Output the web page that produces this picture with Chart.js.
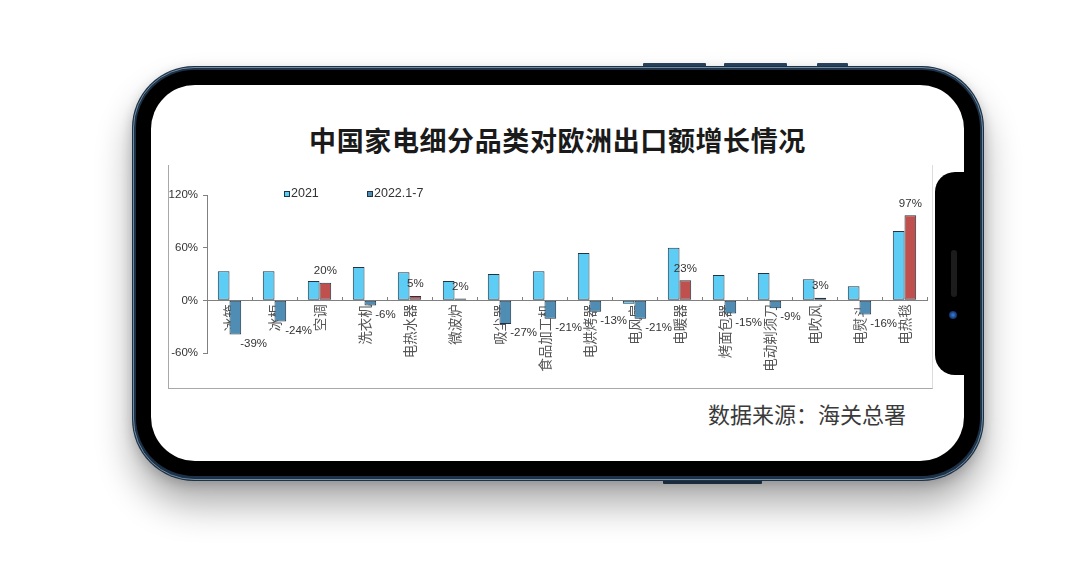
<!DOCTYPE html>
<html><head><meta charset="utf-8">
<script src="https://cdn.jsdelivr.net/npm/chart.js@4.4.1/dist/chart.umd.min.js"></script>
<style>
html,body{margin:0;padding:0;background:#fff;}
body{width:1080px;height:562px;position:relative;overflow:hidden;font-family:"Noto Sans CJK SC",sans-serif;}
.btn{position:absolute;background:#2a4560;border-radius:1px;}
#phone{position:absolute;left:132px;top:66px;width:852px;height:415px;border-radius:62px;background:#1d3246;box-shadow:0 24px 36px rgba(0,0,0,0.32),0 4px 12px rgba(0,0,0,0.18);}
#rim{position:absolute;left:1px;top:1px;right:1px;bottom:1px;border-radius:61px;border:1px solid #6f8aa3;box-sizing:border-box;}
#bezel{position:absolute;left:4px;top:4px;right:4px;bottom:5px;border-radius:58px;background:#000;}
#screen{position:absolute;left:151px;top:85px;width:813px;height:376px;border-radius:44px;background:#fff;overflow:hidden;}
#notch{position:absolute;left:935px;top:172px;width:30px;height:203px;background:#000;border-radius:20px 0 0 20px;}
#speaker{position:absolute;left:951px;top:250px;width:6px;height:47px;border-radius:3px;background:#1c1c1c;}
#cam{position:absolute;left:949px;top:311px;width:8px;height:8px;border-radius:50%;background:radial-gradient(circle,#3b7de0 0,#173c7a 60%,#050a14 100%);}
#title{position:absolute;left:151px;width:813px;top:121px;text-align:center;font-size:27px;font-weight:700;color:#1a1a1a;letter-spacing:0.6px;line-height:38px;}
#frame{position:absolute;left:168px;top:165px;width:765px;height:224px;box-sizing:border-box;border-left:1px solid #a8a8a8;border-bottom:1px solid #a8a8a8;border-right:1px solid #dcdcdc;}
#chart{position:absolute;left:169px;top:165px;}
#source{position:absolute;left:708px;top:398px;font-size:22px;color:#3a3a3a;line-height:30px;white-space:nowrap;}
</style></head>
<body>
<div class="btn" style="left:643px;top:63px;width:63px;height:4px;"></div>
<div class="btn" style="left:724px;top:63px;width:63px;height:4px;"></div>
<div class="btn" style="left:817px;top:63px;width:31px;height:4px;"></div>
<div class="btn" style="left:663px;top:479px;width:99px;height:5px;"></div>
<div id="phone"><div id="rim"></div><div id="bezel"></div></div>
<div id="screen"></div>
<div id="notch"></div>
<div id="speaker"></div>
<div id="cam"></div>
<div id="title">中国家电细分品类对欧洲出口额增长情况</div>
<div id="frame"></div>
<canvas id="chart" width="763" height="222"></canvas>
<div id="source">数据来源：海关总署</div>
<script>
const categories = ['冰箱','冰柜','空调','洗衣机','电热水器','微波炉','吸尘器','食品加工机','电烘烤器','电风扇','电暖器','烤面包器','电动剃须刀','电吹风','电熨斗','电热毯'];
const seriesNames = ['2021','2022.1-7'];
const growth2021 = [33,33,22,38,32,22,30,33,54,-4,60,29,31,24,16,79];
const growth2022 = [-39,-24,20,-6,5,2,-27,-21,-13,-21,23,-15,-9,3,-16,97];
const yMin = -60, yMax = 120, yStep = 60;

const C2021 = '#5ecdf5';
const CNEG = '#4f8db5';
const CPOS = '#c0504d';
const EDGE = '#1f3444';

const legendPlugin = {
  id: 'boxLegend',
  afterDraw(chart) {
    const {ctx, chartArea} = chart;
    let x = chartArea.left + 77;
    const y = chartArea.top - 1;
    ctx.save();
    ctx.font = '12.5px "Liberation Sans"';
    ctx.textBaseline = 'middle';
    ctx.textAlign = 'left';
    chart.data.datasets.forEach(ds => {
      ctx.fillStyle = ds.legendColor;
      ctx.fillRect(x, y - 3, 6, 6);
      ctx.strokeStyle = EDGE; ctx.lineWidth = 1;
      ctx.strokeRect(x + 0.5, y - 2.5, 5, 5);
      ctx.fillStyle = '#333';
      ctx.fillText(ds.label, x + 7, y);
      x += 83;
    });
    ctx.restore();
  }
};

const valuePlugin = {
  id: 'valueLabels',
  afterDatasetsDraw(chart) {
    const {ctx} = chart;
    const meta = chart.getDatasetMeta(1);
    const data = chart.data.datasets[1].data;
    ctx.save();
    ctx.font = '11.5px "Liberation Sans"';
    ctx.fillStyle = '#333';
    meta.data.forEach((bar, i) => {
      const v = data[i];
      const p = bar.getProps(['x','y','width'], true);
      const t = v + '%';
      if (v >= 0) {
        ctx.textAlign = 'center'; ctx.textBaseline = 'bottom';
        ctx.fillText(t, p.x, p.y - 6);
      } else {
        ctx.textAlign = 'left'; ctx.textBaseline = 'middle';
        ctx.fillText(t, p.x + p.width / 2 - 1, p.y + 9);
      }
    });
    ctx.restore();
  }
};

new Chart(document.getElementById('chart'), {
  type: 'bar',
  data: {
    labels: categories,
    datasets: [
      { label: seriesNames[0], data: growth2021, backgroundColor: C2021, legendColor: C2021,
        borderColor: EDGE, borderWidth: 1, borderSkipped: false },
      { label: seriesNames[1], data: growth2022, legendColor: CNEG,
        backgroundColor: growth2022.map(v => v >= 0 ? CPOS : CNEG),
        borderColor: EDGE, borderWidth: 1, borderSkipped: false }
    ]
  },
  options: {
    responsive: false,
    devicePixelRatio: 1,
    animation: false,
    datasets: { bar: { categoryPercentage: 0.52, barPercentage: 1 } },
    layout: { padding: { left: 0, right: 5, top: 30, bottom: 34 } },
    plugins: { legend: { display: false }, tooltip: { enabled: false }, title: { display: false } },
    scales: {
      x: {
        position: { y: 0 },
        z: 1,
        offset: true,
        grid: { drawOnChartArea: false, drawTicks: true, tickLength: -4, color: '#808080', offset: true },
        border: { display: true, color: '#808080', width: 1 },
        ticks: { autoSkip: false, minRotation: 90, maxRotation: 90, padding: 8, color: '#555',
          font: { family: '"Noto Sans CJK SC"', size: 13.5 } }
      },
      y: {
        min: yMin, max: yMax,
        ticks: { stepSize: yStep, padding: 5, color: '#333', callback: v => v + '%',
          font: { family: '"Liberation Sans"', size: 11.5 } },
        grid: { drawOnChartArea: false, drawTicks: true, tickLength: 4, color: '#808080' },
        border: { display: true, color: '#808080', width: 1 },
        afterFit(s) { s.width = 38; }
      }
    }
  },
  plugins: [valuePlugin, legendPlugin]
});
</script>
</body></html>
